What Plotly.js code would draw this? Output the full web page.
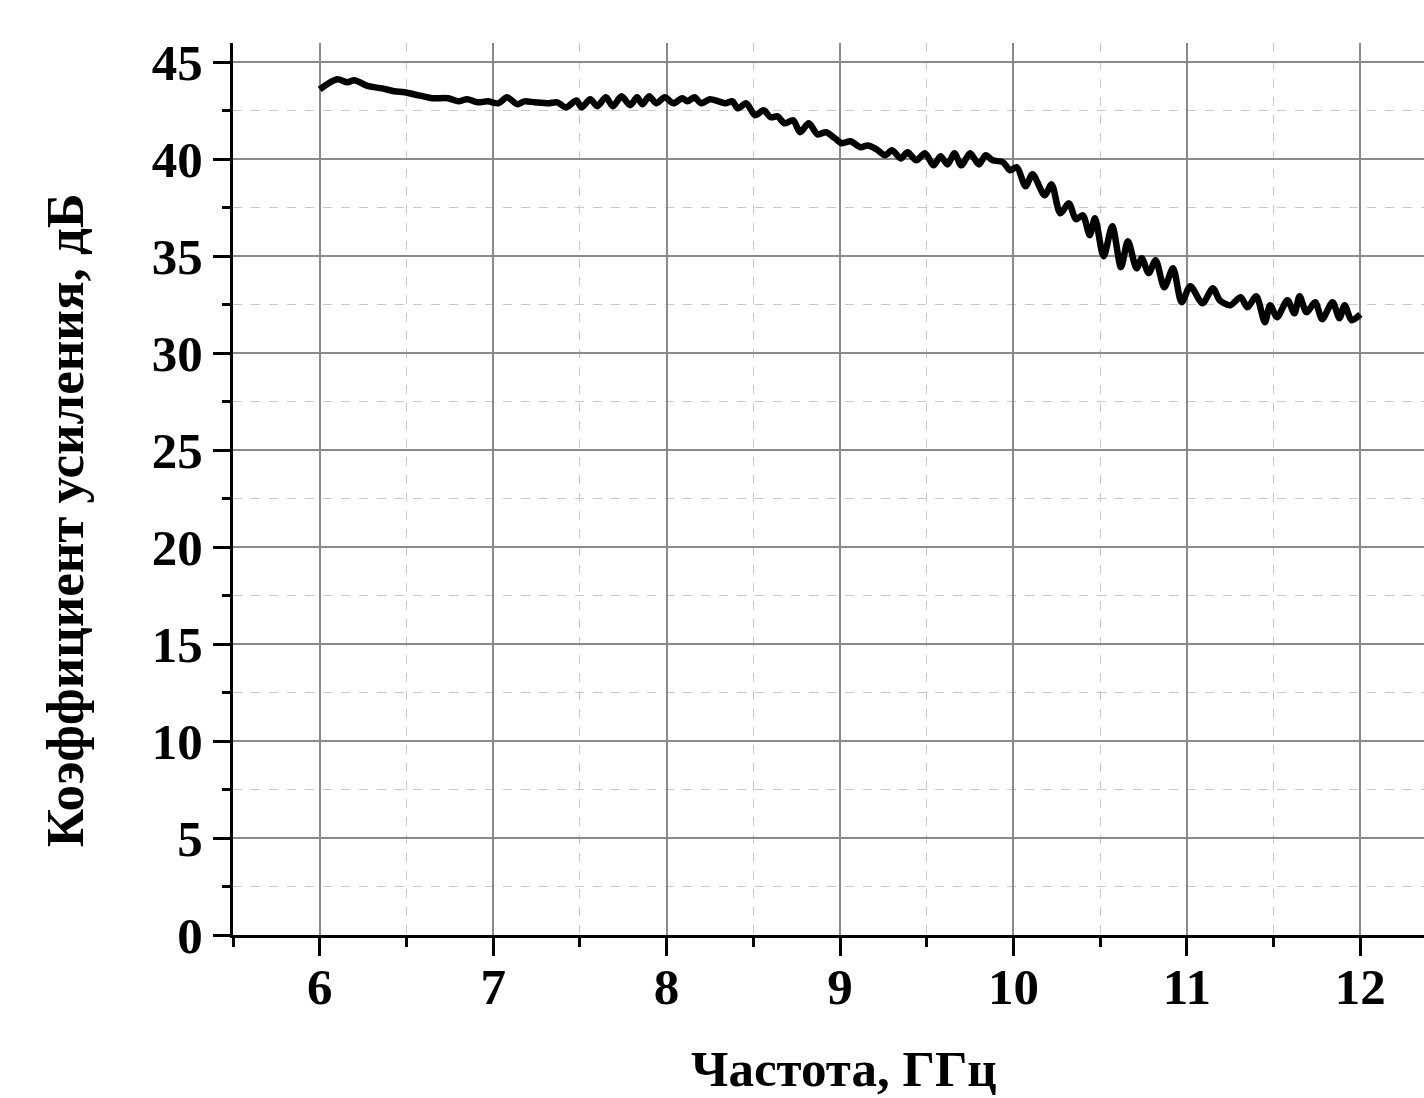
<!DOCTYPE html>
<html>
<head>
<meta charset="utf-8">
<script src="https://cdn.plot.ly/plotly-3.0.1.min.js"></script>
<style>
html, body { margin: 0; padding: 0; overflow: hidden; background: #fff; }
#chart { width: 1500px; height: 1098px; }
</style>
</head>
<body>
<div id="chart"></div>
<script>
// Frequency, GHz
const freq = [
  6.00, 6.10, 6.16, 6.20, 6.28, 6.36, 6.43, 6.49, 6.57, 6.65,
  6.74, 6.80, 6.85, 6.91, 6.97, 7.03, 7.08, 7.14, 7.18, 7.24,
  7.32, 7.37, 7.42, 7.48, 7.51, 7.56, 7.60, 7.65, 7.69, 7.74,
  7.79, 7.83, 7.86, 7.90, 7.94, 7.99, 8.04, 8.09, 8.12, 8.16,
  8.20, 8.25, 8.30, 8.34, 8.38, 8.41, 8.46, 8.51, 8.56, 8.60,
  8.64, 8.68, 8.73, 8.77, 8.82, 8.87, 8.92, 8.97, 9.01, 9.06,
  9.12, 9.16, 9.21, 9.26, 9.30, 9.35, 9.39, 9.44, 9.49, 9.54,
  9.58, 9.62, 9.66, 9.70, 9.75, 9.80, 9.84, 9.88, 9.94, 9.98,
  10.02, 10.07, 10.11, 10.18, 10.22, 10.27, 10.32, 10.36, 10.40, 10.44,
  10.47, 10.52, 10.57, 10.62, 10.66, 10.71, 10.74, 10.78, 10.82, 10.87,
  10.92, 10.97, 11.02, 11.09, 11.15, 11.19, 11.25, 11.31, 11.35, 11.40,
  11.45, 11.48, 11.52, 11.58, 11.62, 11.65, 11.69, 11.74, 11.78, 11.84,
  11.88, 11.91, 11.95, 12.00
];
// Gain, dB
const gain = [
  43.61, 44.13, 43.97, 44.08, 43.77, 43.66, 43.51, 43.46, 43.30, 43.15,
  43.15, 42.99, 43.10, 42.94, 42.99, 42.89, 43.20, 42.84, 42.99, 42.94,
  42.89, 42.94, 42.68, 43.04, 42.68, 43.10, 42.74, 43.20, 42.74, 43.25,
  42.79, 43.20, 42.84, 43.25, 42.89, 43.20, 42.89, 43.15, 42.99, 43.20,
  42.89, 43.10, 42.99, 42.89, 42.99, 42.63, 42.89, 42.27, 42.53, 42.17,
  42.22, 41.86, 42.01, 41.40, 41.86, 41.29, 41.40, 41.09, 40.83, 40.93,
  40.62, 40.72, 40.52, 40.21, 40.47, 40.05, 40.36, 39.95, 40.31, 39.69,
  40.16, 39.74, 40.31, 39.69, 40.31, 39.74, 40.21, 39.95, 39.85, 39.44,
  39.59, 38.61, 39.23, 38.15, 38.71, 37.22, 37.73, 36.91, 37.12, 36.09,
  36.96, 35.00, 36.55, 34.44, 35.78, 34.38, 34.90, 34.13, 34.80, 33.40,
  34.38, 32.63, 33.46, 32.58, 33.35, 32.73, 32.48, 32.89, 32.37, 32.94,
  31.60, 32.48, 31.86, 32.73, 32.06, 32.94, 32.12, 32.63, 31.76, 32.63,
  31.81, 32.48, 31.70, 32.00
];

const xTitle = 'Частота, ГГц';
const yTitle = 'Коэффициент усиления, дБ';

const fontFam = '"Liberation Serif", "Times New Roman", serif';

const trace = {
  x: freq,
  y: gain,
  type: 'scatter',
  mode: 'lines',
  line: { color: '#000000', width: 6.5, shape: 'spline', smoothing: 0.8 },
  hoverinfo: 'skip'
};

const layout = {
  width: 1500,
  height: 1098,
  margin: { l: 233, r: 53, t: 43, b: 163 },
  paper_bgcolor: '#ffffff',
  plot_bgcolor: '#ffffff',
  showlegend: false,
  xaxis: {
    range: [5.5, 12.5],
    tick0: 6,
    dtick: 1,
    ticks: 'outside',
    ticklen: 18,
    tickwidth: 3,
    tickcolor: '#000000',
    showline: true,
    linecolor: '#000000',
    linewidth: 3,
    zeroline: false,
    showgrid: true,
    gridcolor: '#8a8a8a',
    gridwidth: 2,
    ticklabelstandoff: -13,
    tickfont: { family: fontFam, size: 51, color: '#000000', weight: 'bold' },
    minor: {
      tick0: 5.5,
      dtick: 1,
      ticks: 'outside',
      ticklen: 9,
      tickwidth: 3,
      tickcolor: '#000000',
      showgrid: true,
      gridcolor: '#c8c8c8',
      gridwidth: 1,
      griddash: 'dash'
    }
  },
  yaxis: {
    range: [0, 46],
    tick0: 0,
    dtick: 5,
    ticks: 'outside',
    ticklen: 17,
    tickwidth: 3,
    tickcolor: '#000000',
    showline: true,
    linecolor: '#000000',
    linewidth: 3,
    zeroline: false,
    showgrid: true,
    gridcolor: '#8a8a8a',
    gridwidth: 2,
    ticklabelstandoff: 0,
    tickfont: { family: fontFam, size: 51, color: '#000000', weight: 'bold' },
    minor: {
      tick0: 2.5,
      dtick: 5,
      ticks: 'outside',
      ticklen: 8,
      tickwidth: 3,
      tickcolor: '#000000',
      showgrid: true,
      gridcolor: '#c8c8c8',
      gridwidth: 1,
      griddash: 'dash'
    }
  },
  annotations: [
    {
      text: xTitle,
      xref: 'paper', yref: 'paper',
      x: 0.503, y: -0.150,
      xanchor: 'center', yanchor: 'middle',
      height: 54,
      borderpad: 0,
      showarrow: false,
      font: { family: fontFam, size: 51, color: '#000000', weight: 'bold' }
    },
    {
      text: yTitle,
      xref: 'paper', yref: 'paper',
      x: -0.1384, y: 0.465,
      xanchor: 'center', yanchor: 'middle',
      textangle: -90,
      showarrow: false,
      font: { family: fontFam, size: 53, color: '#000000', weight: 'bold' }
    }
  ]
};

Plotly.newPlot('chart', [trace], layout, { staticPlot: true, displayModeBar: false });
</script>
</body>
</html>
